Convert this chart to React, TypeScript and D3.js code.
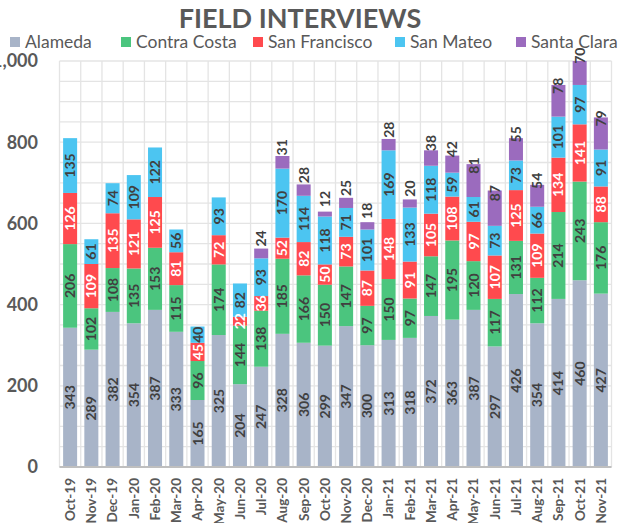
import React from "react";
import * as d3 from "d3";

const months = [
  "Oct-19", "Nov-19", "Dec-19", "Jan-20", "Feb-20", "Mar-20", "Apr-20", "May-20", "Jun-20",
  "Jul-20", "Aug-20", "Sep-20", "Oct-20", "Nov-20", "Dec-20", "Jan-21", "Feb-21", "Mar-21",
  "Apr-21", "May-21", "Jun-21", "Jul-21", "Aug-21", "Sep-21", "Oct-21", "Nov-21",
];
const alameda = [343, 289, 382, 354, 387, 333, 165, 325, 204, 247, 328, 306, 299, 347, 300, 313, 318, 372, 363, 387, 297, 426, 354, 414, 460, 427];
const contraCosta = [206, 102, 108, 135, 153, 115, 96, 174, 144, 138, 185, 166, 150, 147, 97, 150, 97, 147, 195, 120, 117, 131, 112, 214, 243, 176];
const sanFrancisco = [126, 109, 135, 121, 125, 81, 45, 72, 22, 36, 52, 82, 50, 73, 87, 148, 91, 105, 108, 97, 107, 125, 109, 134, 141, 88];
const sanMateo = [135, 61, 74, 109, 122, 56, 40, 93, 82, 93, 170, 114, 118, 71, 101, 169, 133, 118, 59, 61, 73, 73, 66, 101, 97, 91];
const santaClara = [0, 0, 0, 0, 0, 0, 0, 0, 0, 24, 31, 28, 12, 25, 18, 28, 20, 38, 42, 81, 87, 55, 54, 78, 70, 79];

const seriesNames = ["Alameda", "Contra Costa", "San Francisco", "San Mateo", "Santa Clara"];
const seriesValues = [alameda, contraCosta, sanFrancisco, sanMateo, santaClara];
const colors = ["#A8B4C8", "#4BC57E", "#FF4A4E", "#4CC5F1", "#9B6BBE"];
const labelColors = ["#404040", "#404040", "#FFFFFF", "#404040", "#404040"];
const yTicks = [0, 200, 400, 600, 800, 1000];
const legendX = [10, 121, 253, 395, 516];

const W = 627;
const H = 523;
const margin = { left: 59.5, right: 15.5, top: 61, bottom: 56 };
const FONT = "Lato, 'Open Sans', sans-serif";

export default function App() {
  const x = d3
    .scaleBand()
    .domain(months)
    .range([margin.left, W - margin.right])
    .paddingInner(0.34)
    .paddingOuter(0.17);
  const y = d3.scaleLinear().domain([0, 1000]).range([H - margin.bottom, margin.top]);

  const rows = months.map((m, i) => {
    const r: any = { month: m };
    seriesNames.forEach((s, k) => (r[s] = seriesValues[k][i]));
    return r;
  });
  const stacked = d3.stack().keys(seriesNames)(rows);

  const step = x.step();
  const x0 = margin.left;
  const x1 = W - margin.right;
  const gridY = d3.range(0, 1001, 50);

  return (
    <svg width={W} height={H} style={{ position: "absolute", left: 0, top: 0, background: "#fff" }} fontFamily={FONT}>
      <defs>
        <clipPath id="plot">
          <rect x={x0} y={y(1000)} width={x1 - x0} height={y(0) - y(1000)} />
        </clipPath>
      </defs>
      <text x={300} y={28} textAnchor="middle" fontSize={27} fontWeight="bold" fill="#595959">
        FIELD INTERVIEWS
      </text>
      {seriesNames.map((s, k) => (
        <g key={s} transform={`translate(${legendX[k]},42)`}>
          <rect x={0} y={-5} width={10} height={10} fill={colors[k]} />
          <text x={15} y={0} dy="0.35em" fontSize={17.5} fill="#595959">
            {s}
          </text>
        </g>
      ))}
      {/* grid */}
      {gridY.map((v) => (
        <line key={"h" + v} x1={x0} x2={x1} y1={y(v)} y2={y(v)} stroke="#E4E4E4" strokeWidth={1.3} />
      ))}
      {d3.range(months.length + 1).map((i) => (
        <line key={"v" + i} x1={x0 + i * step} x2={x0 + i * step} y1={y(1000)} y2={y(0)} stroke="#E4E4E4" strokeWidth={1.3} />
      ))}
      {/* bars */}
      <g clipPath="url(#plot)">
        {stacked.map((layer, k) =>
          layer.map((d, i) =>
            d[1] - d[0] > 0 ? (
              <rect
                key={k + "-" + i}
                x={x(months[i])}
                y={y(d[1])}
                width={x.bandwidth()}
                height={y(d[0]) - y(d[1])}
                fill={colors[k]}
              />
            ) : null
          )
        )}
      </g>
      <line x1={x0} x2={x1} y1={y(0)} y2={y(0)} stroke="#BFBFBF" strokeWidth={2} />
      {/* bar labels */}
      {stacked.map((layer, k) =>
        layer.map((d, i) => {
          const v = d[1] - d[0];
          if (v <= 0) return null;
          const cx = (x(months[i]) as number) + x.bandwidth() / 2;
          const cy = (y(d[0]) + y(d[1])) / 2 - (k === 4 ? 15 : 0);
          return (
            <text
              key={"l" + k + "-" + i}
              transform={`translate(${cx},${cy}) rotate(-90)`}
              textAnchor="middle"
              dy="0.36em"
              fontSize={14}
              fontWeight="bold"
              fill={labelColors[k]}
            >
              {v}
            </text>
          );
        })
      )}
      {/* y axis */}
      {yTicks.map((t) => (
        <text key={"y" + t} x={38} y={y(t)} dy="0.36em" textAnchor="end" fontSize={18} fontWeight="bold" fill="#595959">
          {d3.format(",")(t)}
        </text>
      ))}
      {/* x axis */}
      {months.map((m) => (
        <text
          key={"x" + m}
          transform={`translate(${(x(m) as number) + x.bandwidth() / 2},478) rotate(-90)`}
          textAnchor="end"
          dy="0.36em"
          fontSize={13.5}
          fontWeight="bold"
          fill="#595959"
        >
          {m}
        </text>
      ))}
    </svg>
  );
}
